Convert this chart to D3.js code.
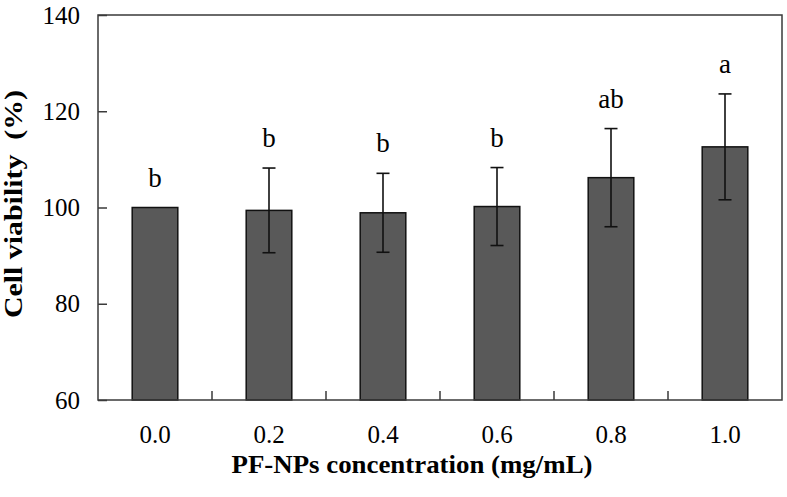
<!DOCTYPE html>
<html><head><meta charset="utf-8">
<script src="https://cdn.jsdelivr.net/npm/d3@7"></script>
<style>
html,body{margin:0;padding:0;background:#fff;}
svg{display:block;}
</style></head>
<body><svg id="chart" width="787" height="497"></svg>
<script>
const categories = ["0.0","0.2","0.4","0.6","0.8","1.0"];
const means = [100, 99.4, 98.9, 100.2, 106.2, 112.6];
const errors = [0, 8.8, 8.2, 8.1, 10.2, 11.0];
const letters = ["b","b","b","b","ab","a"];
const yTicks = [60, 80, 100, 120, 140];

const FONT = "'Liberation Serif', 'Times New Roman', 'DejaVu Serif', serif";
const svg = d3.select("#chart");
const L = 98, R = 782, T = 15, B = 400;
const x = d3.scaleBand().domain(categories).range([L, R]).paddingInner(0.6).paddingOuter(0.3);
const y = d3.scaleLinear().domain([60, 140]).range([B, T]);
const lineCol = "#3a3a3a";

// bars
svg.append("g").selectAll("rect").data(categories).join("rect")
  .attr("x", d => x(d)).attr("width", x.bandwidth())
  .attr("y", (d,i) => y(means[i])).attr("height", (d,i) => y(60) - y(means[i]))
  .attr("fill", "#595959").attr("stroke", "#111").attr("stroke-width", 1.5);

// error bars
const eb = svg.append("g").attr("stroke", "#111").attr("stroke-width", 1.6);
categories.forEach((c, i) => {
  if (!errors[i]) return;
  const cx = x(c) + x.bandwidth() / 2;
  const hi = y(means[i] + errors[i]), lo = y(means[i] - errors[i]);
  eb.append("line").attr("x1", cx).attr("x2", cx).attr("y1", hi).attr("y2", lo);
  eb.append("line").attr("x1", cx - 6.5).attr("x2", cx + 6.5).attr("y1", hi).attr("y2", hi);
  eb.append("line").attr("x1", cx - 6.5).attr("x2", cx + 6.5).attr("y1", lo).attr("y2", lo);
});

// letters
svg.append("g").selectAll("text").data(categories).join("text")
  .attr("x", d => x(d) + x.bandwidth() / 2)
  .attr("y", (d,i) => y(means[i] + errors[i]) - 21)
  .attr("text-anchor", "middle").style("font-family", FONT).style("font-size", "27px").attr("fill", "#000")
  .text((d,i) => letters[i]);

// frame
svg.append("rect").attr("x", L).attr("y", T).attr("width", R - L).attr("height", B - T)
  .attr("fill", "none").attr("stroke", lineCol).attr("stroke-width", 1.5);

// y axis
const yAxis = svg.append("g").attr("transform", `translate(${L},0)`)
  .call(d3.axisLeft(y).tickValues(yTicks).tickSize(-9).tickPadding(18).tickFormat(d3.format("d")));
yAxis.select(".domain").remove();
yAxis.selectAll("line").attr("stroke", lineCol).attr("stroke-width", 1.5);
yAxis.selectAll("text").style("font-family", FONT).style("font-size", "25px").attr("fill", "#000");

// x axis labels
const xAxis = svg.append("g").attr("transform", `translate(0,${B})`)
  .call(d3.axisBottom(x).tickSize(0).tickPadding(25));
xAxis.select(".domain").remove();
xAxis.selectAll("text").style("font-family", FONT).style("font-size", "25px").attr("fill", "#000");

// inward boundary ticks on x axis
const gap = (x.step() - x.bandwidth()) / 2;
svg.append("g").selectAll("line").data(categories.slice(1)).join("line")
  .attr("x1", d => x(d) - gap).attr("x2", d => x(d) - gap)
  .attr("y1", B).attr("y2", B - 9)
  .attr("stroke", lineCol).attr("stroke-width", 1.5);

// titles
svg.append("text").attr("x", 412).attr("y", 473).attr("text-anchor", "middle")
  .style("font-family", FONT).style("font-size", "26px").style("font-weight", "bold")
  .attr("textLength", 361).attr("lengthAdjust", "spacingAndGlyphs")
  .text("PF-NPs concentration (mg/mL)");
svg.append("text").attr("transform", "translate(21.5,204) rotate(-90)")
  .attr("text-anchor", "middle")
  .style("font-family", FONT).style("font-size", "25px").style("font-weight", "bold")
  .attr("textLength", 228).attr("lengthAdjust", "spacingAndGlyphs")
  .style("white-space", "pre").text("Cell viability  (%)");
</script></body></html>
